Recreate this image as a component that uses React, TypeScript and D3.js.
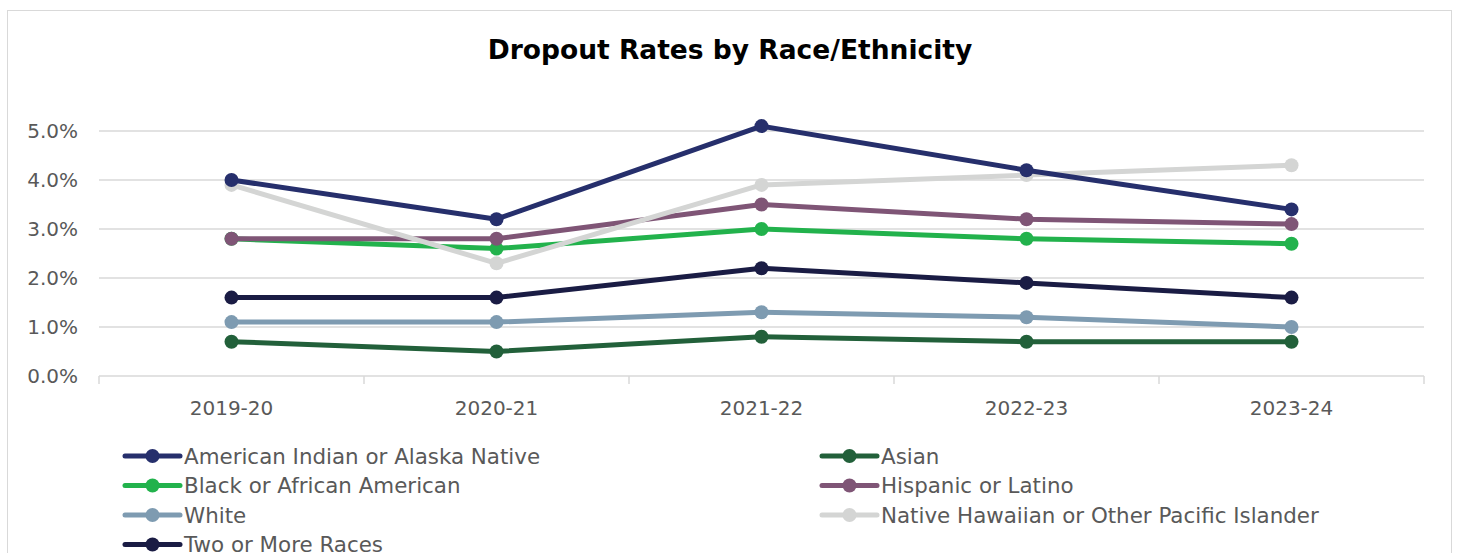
import React from "react";
import * as d3 from "d3";

const categories = ["2019-20", "2020-21", "2021-22", "2022-23", "2023-24"];
const yTicks = [0, 0.01, 0.02, 0.03, 0.04, 0.05];

const seriesNames = [
  "American Indian or Alaska Native",
  "Asian",
  "Black or African American",
  "Hispanic or Latino",
  "White",
  "Native Hawaiian or Other Pacific Islander",
  "Two or More Races",
];
const aian = [0.04, 0.032, 0.051, 0.042, 0.034];
const asian = [0.007, 0.005, 0.008, 0.007, 0.007];
const black = [0.028, 0.026, 0.03, 0.028, 0.027];
const hispanic = [0.028, 0.028, 0.035, 0.032, 0.031];
const white = [0.011, 0.011, 0.013, 0.012, 0.01];
const nhpi = [0.039, 0.023, 0.039, 0.041, 0.043];
const twoPlus = [0.016, 0.016, 0.022, 0.019, 0.016];
const seriesValues = [aian, asian, black, hispanic, white, nhpi, twoPlus];
const seriesColors = ["#262f6c", "#22603a", "#22b24c", "#7f5576", "#7e9bb1", "#d4d5d4", "#1a1c44"];
// drawing order (bottom to top)
const drawOrder = [1, 4, 6, 2, 3, 5, 0];

const W = 1460;
const H = 553;
const left = 99;
const right = 1424;
const top = 131;
const bottom = 376;
const font = "'DejaVu Sans', sans-serif";

export default function App() {
  const x = d3.scaleBand<string>().domain(categories).range([left, right]);
  const y = d3.scaleLinear().domain([0, 0.05]).range([bottom, top]);
  const line = d3
    .line<number>()
    .x((_, i) => (x(categories[i]) as number) + x.bandwidth() / 2)
    .y((d) => y(d));
  const fmt = d3.format(".1%");
  const boundaries = categories.map((c) => x(c) as number).concat([right]);

  const legendRows = [
    [0, 1],
    [2, 3],
    [4, 5],
    [6],
  ];
  const legendX = [125, 822];
  const legendY0 = 456;
  const legendDy = 29.5;

  return (
    <svg width={W} height={H} style={{ position: "absolute", left: 0, top: 0 }}>
      <rect x={0} y={0} width={W} height={H} fill="#fff" />
      <rect x={7.5} y={10.5} width={1444} height={560} fill="#fff" stroke="#d9d9d9" strokeWidth={1} />
      <text x={730} y={59} textAnchor="middle" fontFamily={font} fontWeight="bold" fontSize={26.5} fill="#000">
        Dropout Rates by Race/Ethnicity
      </text>
      {yTicks.map((t) => (
        <g key={t}>
          <line x1={left} x2={right} y1={y(t)} y2={y(t)} stroke="#d9d9d9" strokeWidth={1.5} />
          <text x={78} y={y(t) + 7} textAnchor="end" fontFamily={font} fontSize={20} fill="#595959">
            {fmt(t)}
          </text>
        </g>
      ))}
      {boundaries.map((b, i) => (
        <line key={i} x1={b} x2={b} y1={bottom} y2={bottom + 8} stroke="#d9d9d9" strokeWidth={1.5} />
      ))}
      {categories.map((c) => (
        <text
          key={c}
          x={(x(c) as number) + x.bandwidth() / 2}
          y={415}
          textAnchor="middle"
          fontFamily={font}
          fontSize={20}
          fill="#595959"
        >
          {c}
        </text>
      ))}
      {drawOrder.map((si) => (
        <g key={si}>
          <path
            d={line(seriesValues[si]) || ""}
            fill="none"
            stroke={seriesColors[si]}
            strokeWidth={5}
            strokeLinejoin="round"
            strokeLinecap="round"
          />
          {seriesValues[si].map((v, i) => (
            <circle
              key={i}
              cx={(x(categories[i]) as number) + x.bandwidth() / 2}
              cy={y(v)}
              r={7}
              fill={seriesColors[si]}
            />
          ))}
        </g>
      ))}
      {legendRows.map((row, ri) =>
        row.map((si, ci) => {
          const lx = legendX[ci];
          const ly = legendY0 + ri * legendDy;
          return (
            <g key={si}>
              <line x1={lx} x2={lx + 55} y1={ly} y2={ly} stroke={seriesColors[si]} strokeWidth={5} strokeLinecap="round" />
              <circle cx={lx + 27.5} cy={ly} r={7} fill={seriesColors[si]} />
              <text x={lx + 59} y={ly + 7.5} fontFamily={font} fontSize={21.4} fill="#595959">
                {seriesNames[si]}
              </text>
            </g>
          );
        })
      )}
    </svg>
  );
}
